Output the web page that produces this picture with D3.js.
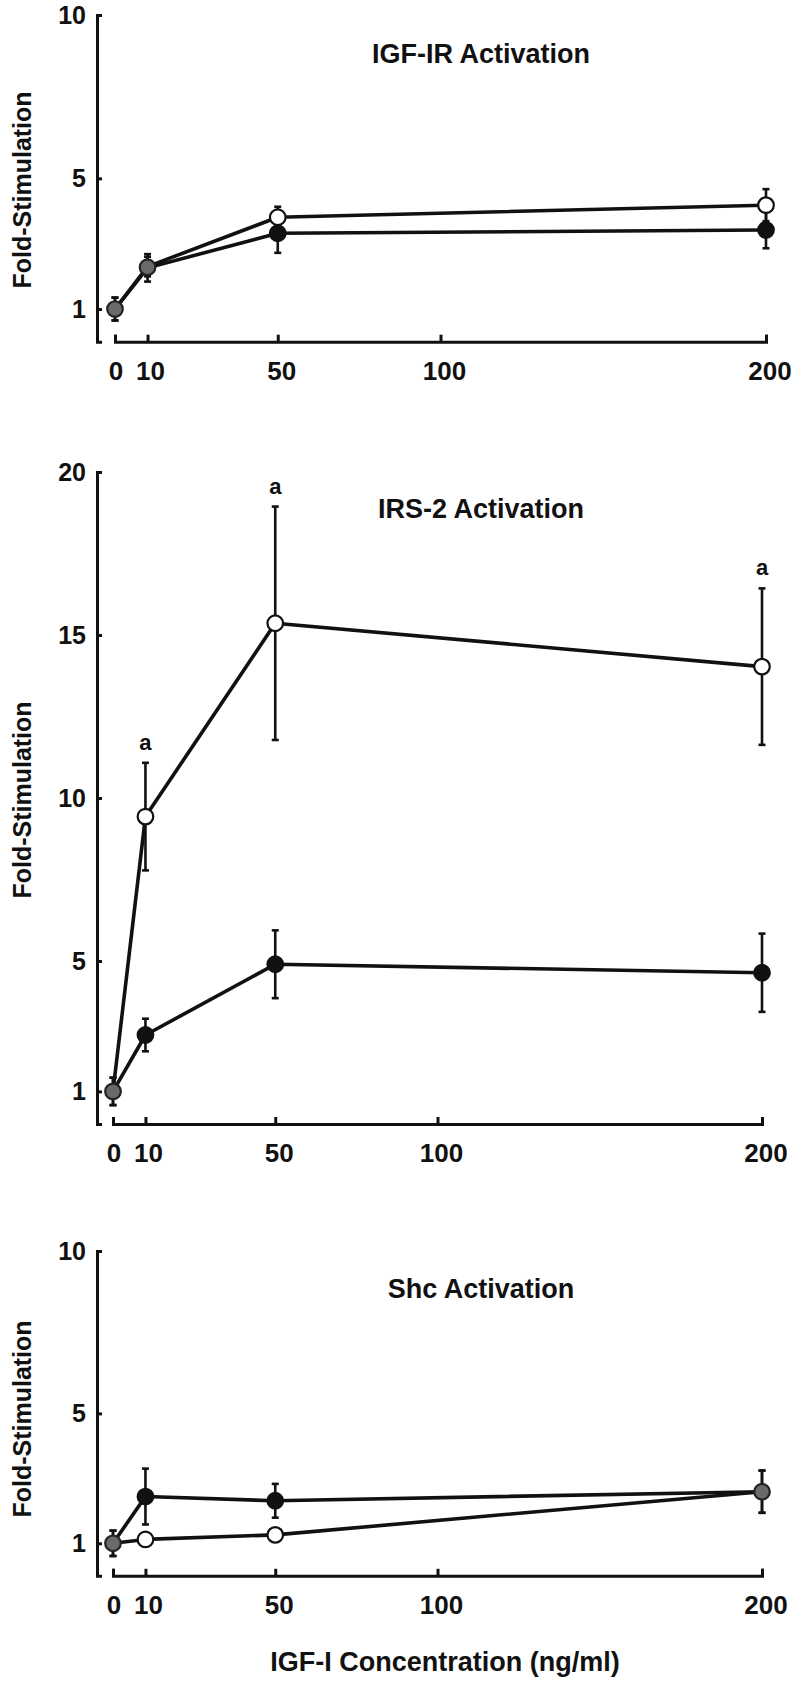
<!DOCTYPE html>
<html>
<head>
<meta charset="utf-8">
<script src="https://cdn.jsdelivr.net/npm/d3@7"></script>
<style>
body { margin: 0; background: #fff; }
text { font-family: "Liberation Sans", Arial, sans-serif; font-weight: bold; fill: #111; }
</style>
</head>
<body>
<script>
// IGF-I dose (ng/ml)
var doses = [0, 10, 50, 200];
var xTicks = [0, 10, 50, 100, 200];

// IGF-IR activation
var igfirOpen = [1.0, 2.3, 3.81, 4.18];
var igfirOpenErr = [0.35, 0.3, 0.32, 0.49];
var igfirFilled = [1.0, 2.26, 3.32, 3.42];
var igfirFilledErr = [0.35, 0.42, 0.6, 0.56];
var igfirShared = [0, 10];

// IRS-2 activation
var irs2Open = [1.0, 9.43, 15.36, 14.03];
var irs2OpenErr = [0.42, 1.65, 3.58, 2.4];
var irs2Filled = [1.0, 2.73, 4.9, 4.64];
var irs2FilledErr = [0.42, 0.5, 1.04, 1.2];
var irs2Shared = [0];
var irs2Signif = [10, 50, 200];

// Shc activation
var shcOpen = [1.0, 1.12, 1.26, 2.59];
var shcOpenErr = [0.39, 0.1, 0.1, 0.65];
var shcFilled = [1.0, 2.44, 2.31, 2.59];
var shcFilledErr = [0.39, 0.86, 0.52, 0.65];
var shcShared = [0, 200];

var panels = [
  { title: "IGF-IR Activation", open: igfirOpen, openErr: igfirOpenErr, filled: igfirFilled, filledErr: igfirFilledErr,
    shared: igfirShared, signif: [], yMax: 10, yTicks: [1, 5, 10],
    xr: [115, 766], yr: [341.7, 15], titleY: 63, labelY: 190 },
  { title: "IRS-2 Activation", open: irs2Open, openErr: irs2OpenErr, filled: irs2Filled, filledErr: irs2FilledErr,
    shared: irs2Shared, signif: irs2Signif, yMax: 20, yTicks: [1, 5, 10, 15, 20],
    xr: [113, 762], yr: [1124, 472], titleY: 518, labelY: 800 },
  { title: "Shc Activation", open: shcOpen, openErr: shcOpenErr, filled: shcFilled, filledErr: shcFilledErr,
    shared: shcShared, signif: [], yMax: 10, yTicks: [1, 5, 10],
    xr: [113, 762], yr: [1575.8, 1251], titleY: 1298, labelY: 1419 }
];

var ink = "#111";
var svg = d3.select("body").append("svg")
    .attr("width", 800)
    .attr("height", 1684);

panels.forEach(function (p) {
  var x = d3.scaleLinear().domain([0, 200]).range(p.xr);
  var y = d3.scaleLinear().domain([0, p.yMax]).range(p.yr);
  var g = svg.append("g");

  // y axis
  var yAxis = g.append("g")
      .attr("transform", "translate(97,0)")
      .call(d3.axisLeft(y).tickValues(p.yTicks).tickSizeInner(-5).tickSizeOuter(-5).tickPadding(0));
  yAxis.selectAll("text").remove();
  yAxis.selectAll("path,line").attr("stroke", ink).attr("stroke-width", 3);
  g.selectAll(".ylab")
    .data(p.yTicks)
    .enter().append("text")
      .attr("x", 86)
      .attr("y", function (d) { return y(d); })
      .attr("dy", "0.36em")
      .attr("text-anchor", "end")
      .attr("font-size", 25)
      .text(function (d) { return d; });

  // x axis
  var xAxis = g.append("g")
      .attr("transform", "translate(0," + y(0) + ")")
      .call(d3.axisBottom(x).tickValues(xTicks).tickSizeInner(-7).tickSizeOuter(-7));
  xAxis.selectAll("text").remove();
  xAxis.selectAll("path,line").attr("stroke", ink).attr("stroke-width", 3);
  g.selectAll(".xlab")
    .data(xTicks)
    .enter().append("text")
      .attr("x", function (d) { return x(d) + (d === 10 ? 3 : d === 0 ? 1 : 4); })
      .attr("y", y(0) + 38)
      .attr("text-anchor", "middle")
      .attr("font-size", 26)
      .text(function (d) { return d; });

  // titles
  g.append("text")
    .attr("x", 481).attr("y", p.titleY)
    .attr("text-anchor", "middle")
    .attr("font-size", 27)
    .text(p.title);

  g.append("text")
    .attr("transform", "translate(31," + p.labelY + ") rotate(-90)")
    .attr("text-anchor", "middle")
    .attr("font-size", 25)
    .text("Fold-Stimulation");

  var series = [
    { vals: p.filled, err: p.filledErr, fill: ink },
    { vals: p.open, err: p.openErr, fill: "#fff" }
  ];

  // error bars
  series.forEach(function (s) {
    var pts = doses.map(function (d, i) { return { x: d, v: s.vals[i], e: s.err[i] }; });
    var eb = g.append("g").attr("stroke", ink).attr("stroke-width", 2.6);
    eb.selectAll("line.bar").data(pts).enter().append("line")
      .attr("x1", function (d) { return x(d.x); }).attr("x2", function (d) { return x(d.x); })
      .attr("y1", function (d) { return y(d.v + d.e); }).attr("y2", function (d) { return y(d.v - d.e); });
    eb.selectAll("line.capt").data(pts).enter().append("line")
      .attr("x1", function (d) { return x(d.x) - 3.5; }).attr("x2", function (d) { return x(d.x) + 3.5; })
      .attr("y1", function (d) { return y(d.v + d.e); }).attr("y2", function (d) { return y(d.v + d.e); });
    eb.selectAll("line.capb").data(pts).enter().append("line")
      .attr("x1", function (d) { return x(d.x) - 3.5; }).attr("x2", function (d) { return x(d.x) + 3.5; })
      .attr("y1", function (d) { return y(d.v - d.e); }).attr("y2", function (d) { return y(d.v - d.e); });
  });

  // lines
  var line = d3.line()
      .x(function (d, i) { return x(doses[i]); })
      .y(function (d) { return y(d); });
  series.forEach(function (s) {
    g.append("path")
      .attr("d", line(s.vals))
      .attr("fill", "none")
      .attr("stroke", ink)
      .attr("stroke-width", 3.6)
      .attr("stroke-linejoin", "round");
  });

  // markers
  series.forEach(function (s) {
    var pts = doses.map(function (d, i) { return { x: d, v: s.vals[i] }; })
      .filter(function (d) { return p.shared.indexOf(d.x) < 0; });
    g.selectAll(null).data(pts).enter().append("circle")
      .attr("cx", function (d) { return x(d.x); })
      .attr("cy", function (d) { return y(d.v); })
      .attr("r", 7.8)
      .attr("fill", s.fill)
      .attr("stroke", ink)
      .attr("stroke-width", 2.2);
  });
  var shared = p.shared.map(function (d) {
    var i = doses.indexOf(d);
    return { x: d, v: (p.open[i] + p.filled[i]) / 2 };
  });
  g.selectAll(null).data(shared).enter().append("circle")
    .attr("cx", function (d) { return x(d.x); })
    .attr("cy", function (d) { return y(d.v); })
    .attr("r", 7.8)
    .attr("fill", "#6a6a6a")
    .attr("stroke", "#222")
    .attr("stroke-width", 2.2);

  // significance marks
  g.selectAll(null).data(p.signif).enter().append("text")
    .attr("x", function (d) { return x(d); })
    .attr("y", function (d) {
      var i = doses.indexOf(d);
      return y(p.open[i] + p.openErr[i]) - 13;
    })
    .attr("text-anchor", "middle")
    .attr("font-size", 22)
    .text("a");
});

svg.append("text")
  .attr("x", 445).attr("y", 1671)
  .attr("text-anchor", "middle")
  .attr("font-size", 27)
  .text("IGF-I Concentration (ng/ml)");
</script>
</body>
</html>
